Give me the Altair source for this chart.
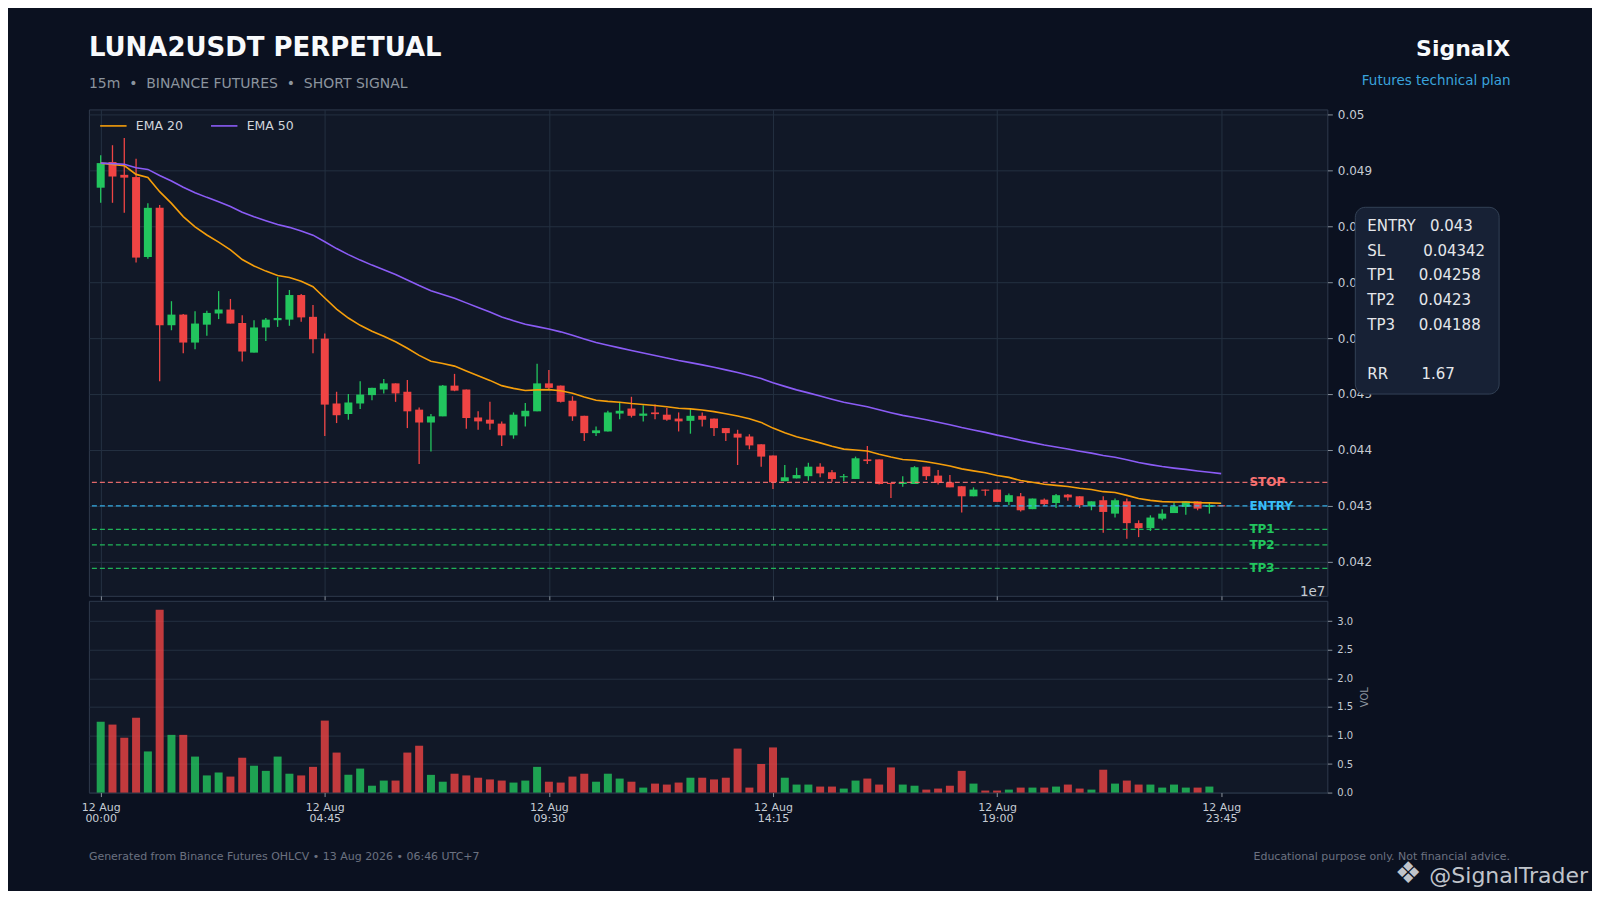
import altair as alt
import pandas as pd

# ---------------- data ----------------
opens = [0.04869, 0.04915, 0.04892, 0.04888, 0.04745, 0.04833, 0.04623, 0.04642, 0.04592, 0.04624,
         0.04644, 0.04651, 0.04627, 0.04574, 0.04619, 0.04632, 0.04633, 0.04677, 0.04638, 0.04599,
         0.04483, 0.04464, 0.04483, 0.04498, 0.04508, 0.04519, 0.04504, 0.04472, 0.04449, 0.04460,
         0.04515, 0.04508, 0.04458, 0.04454, 0.04447, 0.04426, 0.04460, 0.04469, 0.04519, 0.04515,
         0.04488, 0.04461, 0.04430, 0.04433, 0.04465, 0.04474, 0.04461, 0.04467, 0.04463, 0.04456,
         0.04452, 0.04461, 0.04456, 0.04439, 0.04429, 0.04424, 0.04410, 0.04390, 0.04344, 0.04349,
         0.04353, 0.04370, 0.04360, 0.04351, 0.04348, 0.04383, 0.04383, 0.04341, 0.04339, 0.04339,
         0.04370, 0.04354, 0.04342, 0.04335, 0.04317, 0.04329, 0.04329, 0.04307, 0.04317, 0.04294,
         0.04311, 0.04305, 0.04320, 0.04317, 0.04299, 0.04310, 0.04286, 0.04308, 0.04269, 0.04260,
         0.04277, 0.04287, 0.04298, 0.04308, 0.04298, 0.04301]
highs = [0.04927, 0.04945, 0.04958, 0.04921, 0.04841, 0.04838, 0.04666, 0.04643, 0.04648, 0.04649,
         0.04684, 0.04670, 0.04641, 0.04632, 0.04636, 0.04709, 0.04686, 0.04679, 0.04659, 0.04608,
         0.04504, 0.04500, 0.04523, 0.04511, 0.04527, 0.04519, 0.04525, 0.04476, 0.04464, 0.04516,
         0.04536, 0.04508, 0.04469, 0.04486, 0.04451, 0.04467, 0.04484, 0.04554, 0.04543, 0.04515,
         0.04496, 0.04461, 0.04442, 0.04470, 0.04486, 0.04495, 0.04480, 0.04481, 0.04475, 0.04467,
         0.04473, 0.04467, 0.04456, 0.04439, 0.04436, 0.04428, 0.04410, 0.04390, 0.04373, 0.04368,
         0.04377, 0.04376, 0.04364, 0.04357, 0.04388, 0.04407, 0.04383, 0.04341, 0.04353, 0.04371,
         0.04370, 0.04364, 0.04355, 0.04335, 0.04333, 0.04329, 0.04329, 0.04322, 0.04323, 0.04313,
         0.04313, 0.04321, 0.04321, 0.04317, 0.04308, 0.04317, 0.04313, 0.04313, 0.04274, 0.04283,
         0.04294, 0.04306, 0.04308, 0.04308, 0.04305, 0.04301]
lows = [0.04842, 0.04842, 0.04824, 0.04735, 0.04742, 0.04523, 0.04614, 0.04573, 0.04580, 0.04604,
        0.04634, 0.04626, 0.04558, 0.04574, 0.04595, 0.04620, 0.04622, 0.04629, 0.04573, 0.04425,
        0.04448, 0.04454, 0.04473, 0.04489, 0.04501, 0.04486, 0.04439, 0.04375, 0.04397, 0.04460,
        0.04505, 0.04438, 0.04436, 0.04436, 0.04407, 0.04420, 0.04442, 0.04469, 0.04507, 0.04485,
        0.04452, 0.04416, 0.04425, 0.04433, 0.04455, 0.04458, 0.04451, 0.04455, 0.04452, 0.04433,
        0.04429, 0.04442, 0.04425, 0.04416, 0.04373, 0.04401, 0.04370, 0.04330, 0.04344, 0.04349,
        0.04345, 0.04351, 0.04343, 0.04344, 0.04348, 0.04375, 0.04338, 0.04314, 0.04334, 0.04339,
        0.04346, 0.04338, 0.04333, 0.04288, 0.04317, 0.04318, 0.04307, 0.04301, 0.04290, 0.04294,
        0.04300, 0.04296, 0.04309, 0.04296, 0.04292, 0.04252, 0.04279, 0.04241, 0.04244, 0.04255,
        0.04274, 0.04287, 0.04284, 0.04292, 0.04286, 0.04299]
closes = [0.04913, 0.04889, 0.04887, 0.04744, 0.04833, 0.04623, 0.04642, 0.04592, 0.04626, 0.04645,
          0.04651, 0.04626, 0.04576, 0.04619, 0.04633, 0.04636, 0.04677, 0.04637, 0.04598, 0.04481,
          0.04462, 0.04485, 0.04499, 0.04511, 0.04519, 0.04501, 0.04469, 0.04449, 0.04460, 0.04515,
          0.04506, 0.04457, 0.04451, 0.04447, 0.04426, 0.04463, 0.04470, 0.04519, 0.04511, 0.04486,
          0.04460, 0.04430, 0.04435, 0.04467, 0.04470, 0.04461, 0.04465, 0.04464, 0.04454, 0.04451,
          0.04461, 0.04454, 0.04439, 0.04430, 0.04422, 0.04408, 0.04388, 0.04342, 0.04351, 0.04355,
          0.04370, 0.04358, 0.04348, 0.04353, 0.04385, 0.04380, 0.04339, 0.04339, 0.04342, 0.04369,
          0.04353, 0.04341, 0.04333, 0.04317, 0.04329, 0.04327, 0.04307, 0.04319, 0.04292, 0.04313,
          0.04303, 0.04319, 0.04315, 0.04301, 0.04308, 0.04289, 0.04310, 0.04269, 0.04260, 0.04279,
          0.04286, 0.04299, 0.04308, 0.04295, 0.04301, 0.04299]
volumes_1e7 = [1.24, 1.19, 0.96, 1.31, 0.72, 3.20, 1.01, 1.01, 0.63, 0.30,
               0.35, 0.28, 0.61, 0.47, 0.38, 0.63, 0.33, 0.30, 0.45, 1.26,
               0.70, 0.31, 0.42, 0.12, 0.21, 0.21, 0.70, 0.82, 0.31, 0.19,
               0.33, 0.30, 0.26, 0.23, 0.21, 0.175, 0.21, 0.45, 0.19, 0.175,
               0.28, 0.33, 0.19, 0.33, 0.245, 0.19, 0.087, 0.157, 0.14, 0.175,
               0.26, 0.26, 0.23, 0.26, 0.77, 0.087, 0.50, 0.79, 0.26, 0.14,
               0.14, 0.105, 0.105, 0.07, 0.21, 0.245, 0.14, 0.44, 0.14, 0.12,
               0.052, 0.07, 0.12, 0.38, 0.157, 0.035, 0.035, 0.052, 0.087, 0.087,
               0.087, 0.105, 0.14, 0.07, 0.052, 0.40, 0.157, 0.21, 0.14, 0.14,
               0.087, 0.14, 0.087, 0.087, 0.105, 0.0]

level_names = ["STOP", "ENTRY", "TP1", "TP2", "TP3"]
level_values = [0.04342, 0.043, 0.04258, 0.0423, 0.04188]
risk_reward = 1.67

price_ticks = [0.042, 0.043, 0.044, 0.045, 0.046, 0.047, 0.048, 0.049, 0.050]
volume_ticks = [0.0, 0.5, 1.0, 1.5, 2.0, 2.5, 3.0]
tick_times = ["2026-08-12 00:00", "2026-08-12 04:45", "2026-08-12 09:30",
              "2026-08-12 14:15", "2026-08-12 19:00", "2026-08-12 23:45"]
x_range = ["2026-08-11 23:45", "2026-08-13 02:00"]
price_range = [0.04139, 0.05009]
volume_range = [0.0, 3.357]

title_text = "LUNA2USDT PERPETUAL"
nb = "\u00a0"
subtitle_text = f"15m{nb*2}•{nb*2}BINANCE FUTURES{nb*2}•{nb*2}SHORT SIGNAL"
brand_text = "SignalX"
brand_sub = "Futures technical plan"
footer_left = "Generated from Binance Futures OHLCV • 13 Aug 2026 • 06:46 UTC+7"
footer_right = "Educational purpose only. Not financial advice."
watermark = "@SignalTrader"

# ---------------- styles ----------------
FONT = "DejaVu Sans"
BG = "#0b1120"
PANEL = "#111827"
BORDER = "#2f3a4d"
GRID = "#243041"
LABEL = "#c6ccd4"
MUTED = "#8b949e"
GREEN = "#22c55e"
RED = "#ef4444"
ORANGE = "#f59e0b"
PURPLE = "#8b5cf6"
level_colors = ["#f87171", "#38bdf8", GREEN, GREEN, GREEN]

# ---------------- tables ----------------
times = pd.date_range("2026-08-12 00:00", periods=len(closes), freq="15min").strftime("%Y-%m-%dT%H:%M:%S")
df = pd.DataFrame({"time": times, "open": opens, "high": highs, "low": lows,
                   "close": closes, "vol": volumes_1e7})
df["ema20"] = df["close"].ewm(span=20, adjust=False).mean()
df["ema50"] = df["close"].ewm(span=50, adjust=False).mean()
ema = df.melt(id_vars=["time"], value_vars=["ema20", "ema50"], var_name="k", value_name="value")
ema["series"] = ema["k"].map({"ema20": "EMA 20", "ema50": "EMA 50"})
levels = pd.DataFrame({"name": level_names, "value": level_values})


def dt(s):
    t = pd.Timestamp(s)
    return alt.DateTime(year=t.year, month=t.month, date=t.day, hours=t.hour, minutes=t.minute)


tick_dt = [dt(s) for s in tick_times]
xscale = alt.Scale(domain=[dt(s) for s in x_range], nice=False, padding=0)
candle_color = alt.condition("datum.close >= datum.open", alt.value(GREEN), alt.value(RED))
one = pd.DataFrame({"k": [0]})


def label(txt, x, y, size, color, weight="normal", align="left", baseline="alphabetic", **kw):
    return alt.Chart(one).mark_text(text=txt, align=align, baseline=baseline, fontSize=size,
                                    fontWeight=weight, color=color, font=FONT, **kw).encode(
        x=alt.value(x), y=alt.value(y))


# ---------------- price panel ----------------
frame = alt.Chart(one).mark_rect(opacity=0).encode(
    x=alt.value(-80), x2=alt.value(1504), y=alt.value(-100), y2=alt.value(780))

wicks = alt.Chart(df).mark_rule(strokeWidth=1.3).encode(
    x=alt.X("time:T", scale=xscale, title=None,
            axis=alt.Axis(values=tick_dt, labels=False, ticks=True, tickSize=4, grid=True, domain=False)),
    y=alt.Y("low:Q", scale=alt.Scale(domain=price_range, nice=False, zero=False), title=None,
            axis=alt.Axis(orient="right", values=price_ticks, format=".3~f", tickSize=5, labelPadding=5,
                          labelFontSize=12, grid=True, domain=False, zindex=0)),
    y2="high:Q",
    color=candle_color)
bodies = alt.Chart(df).mark_bar(size=8).encode(
    x=alt.X("time:T", title=None), y=alt.Y("open:Q", title=None), y2="close:Q", color=candle_color)

lcolor = alt.Color("name:N", scale=alt.Scale(domain=level_names, range=level_colors), legend=None)
level_lines = alt.Chart(levels).mark_rule(strokeDash=[5, 3], strokeWidth=1.2, opacity=0.9).encode(
    y=alt.Y("value:Q", title=None), color=lcolor)
level_text = alt.Chart(levels).mark_text(align="left", baseline="middle", fontSize=12,
                                         fontWeight="bold", font=FONT).encode(
    x=alt.value(1162), y=alt.Y("value:Q", title=None), text="name:N", color=lcolor)

ema_lines = alt.Chart(ema).mark_line(strokeWidth=1.6).encode(
    x=alt.X("time:T", title=None), y=alt.Y("value:Q", title=None),
    color=alt.Color("series:N", scale=alt.Scale(domain=["EMA 20", "EMA 50"], range=[ORANGE, PURPLE]),
                    legend=alt.Legend(orient="none", legendX=10, legendY=2, direction="horizontal",
                                      title=None, symbolType="stroke", symbolSize=700,
                                      symbolStrokeWidth=1.6, labelFontSize=12.5, labelColor="#d1d5db",
                                      labelFont=FONT, labelOffset=8, columnPadding=24, padding=0)))

fmt = lambda v: f"{v:g}"
info_lines = [f"ENTRY{nb*3}{fmt(level_values[1])}", f"SL{nb*8}{fmt(level_values[0])}",
              f"TP1{nb*5}{fmt(level_values[2])}", f"TP2{nb*5}{fmt(level_values[3])}",
              f"TP3{nb*5}{fmt(level_values[4])}"]
rr_line = f"RR{nb*7}{fmt(risk_reward)}"
info_box = alt.Chart(one).mark_rect(cornerRadius=10, fill="#172135", stroke="#334155", strokeWidth=1).encode(
    x=alt.value(1268), x2=alt.value(1412), y=alt.value(98), y2=alt.value(285))
info_text = label(info_lines, 1280, 122, 15, "#e5e7eb", lineHeight=24.6)
info_rr = label(rr_line, 1280, 122 + 6 * 24.6, 15, "#e5e7eb")

texts = [
    label(title_text, 0, -53.7, 26, "#f8fafc", weight="bold"),
    label(subtitle_text, 0, -21.7, 14, MUTED),
    label(brand_text, 1423, -53.7, 22, "#f8fafc", weight="bold", align="right"),
    label(brand_sub, 1423.5, -24.7, 13.5, "#3aa3dc", align="right"),
    label(footer_left, 0, 751.3, 11, "#6b7280"),
    label(footer_right, 1423, 751.3, 11, "#6b7280", align="right"),
    label("❖", 1321, 766, 30, "#d4d8de", baseline="middle", align="center", opacity=0.9),
    label(watermark, 1501, 774.5, 22, "#d4d8de", align="right", opacity=0.9),
]

price = alt.layer(frame, wicks, bodies, level_lines, ema_lines, level_text, info_box, info_text, info_rr,
                  *texts).resolve_scale(color="independent").properties(width=1240, height=487)

# ---------------- volume panel ----------------
vol_bars = alt.Chart(df).mark_bar(size=8, opacity=0.8).encode(
    x=alt.X("time:T", scale=xscale, title=None,
            axis=alt.Axis(values=tick_dt, grid=False, domain=False, tickSize=4, labelPadding=5,
                          labelFontSize=11, labelLineHeight=11, labelFlush=False,
                          labelExpr="[timeFormat(datum.value, '%d %b'), timeFormat(datum.value, '%H:%M')]")),
    y=alt.Y("vol:Q", scale=alt.Scale(domain=volume_range, nice=False),
            axis=alt.Axis(orient="right", values=volume_ticks, format=".1f", tickSize=4.5, labelPadding=5,
                          labelFontSize=10, grid=True, domain=False, title="VOL", titleAngle=270,
                          titleX=37, titleY=96, titleFontSize=10, titleFontWeight="normal",
                          titleColor=MUTED, titleAlign="center", titleBaseline="middle")),
    color=candle_color)
offset_text = label("1e7", 1238, -4.6, 13.5, LABEL, align="right")
volume = alt.layer(vol_bars, offset_text).properties(width=1240, height=192)

chart = alt.vconcat(price, volume, spacing=5, bounds="flush", padding=0).configure(
    background=BG, font=FONT
).configure_view(fill=PANEL, stroke=BORDER, strokeWidth=1).configure_axis(
    gridColor=GRID, gridWidth=1, tickColor=MUTED, labelColor=LABEL, labelFont=FONT, titleFont=FONT
)

chart.save("out.html", embed_options={"renderer": "svg", "actions": False})
